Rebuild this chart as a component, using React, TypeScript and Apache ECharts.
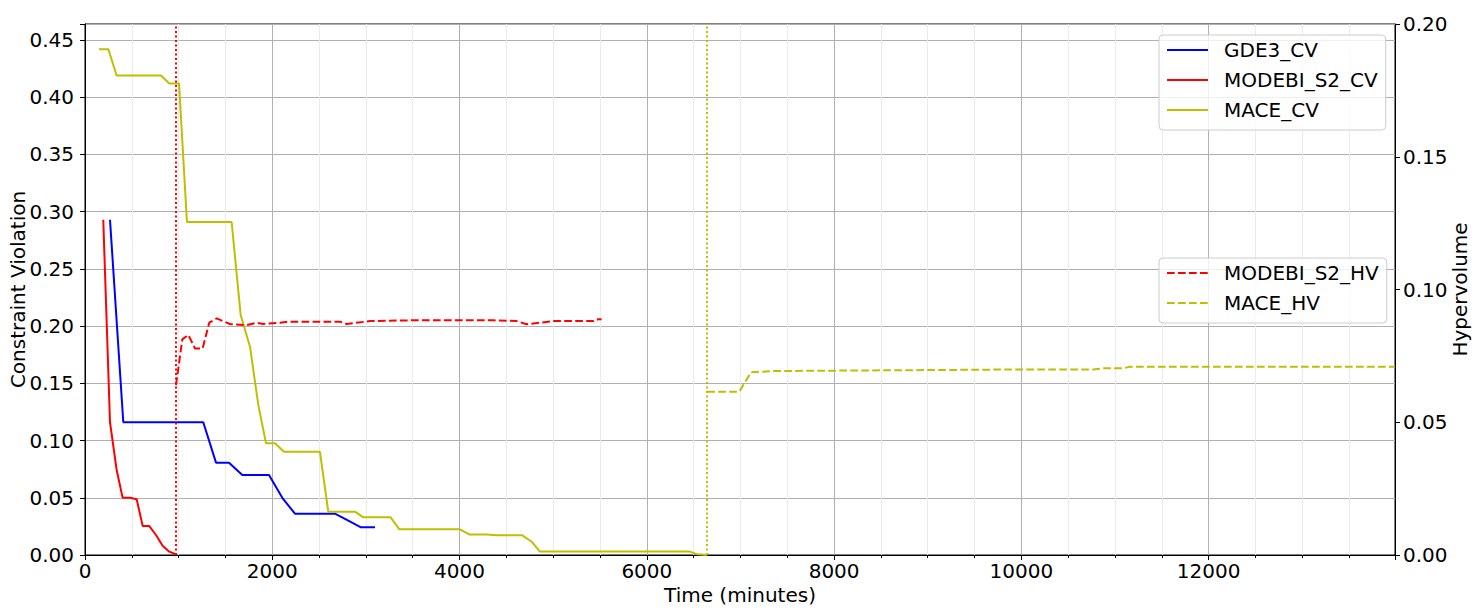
import React, { useEffect, useRef } from "react";
import * as echarts from "echarts";

const gde3CvX = [267, 409, 1263, 1399, 1538, 1680, 1965, 2107, 2242, 2669, 2812, 2947, 3097];
const gde3CvY = [0.293, 0.116, 0.116, 0.0807, 0.0807, 0.07, 0.07, 0.05, 0.0361, 0.0361, 0.03, 0.0242, 0.0242];

const modebiCvX = [195, 267, 338, 402, 480, 552, 616, 687, 758, 829, 900, 961, 980];
const modebiCvY = [0.293, 0.116, 0.0743, 0.05, 0.05, 0.0487, 0.0253, 0.0253, 0.0175, 0.0081, 0.0029, 0.0009, 0.0];

const maceCvX = [150, 249, 338, 812, 900, 1004, 1089, 1566, 1662, 1762, 1851, 1933, 2029, 2125, 2509, 2598, 2883, 2972, 3264, 3357, 4004, 4104, 4289, 4396, 4670, 4770, 4858, 6460, 6538, 6645];
const maceCvY = [0.442, 0.442, 0.419, 0.419, 0.412, 0.412, 0.291, 0.291, 0.21, 0.182, 0.131, 0.0976, 0.0976, 0.0903, 0.0903, 0.0379, 0.0379, 0.0329, 0.0329, 0.0224, 0.0224, 0.018, 0.018, 0.0172, 0.0172, 0.0116, 0.003, 0.003, 0.0006, 0.0];

const modebiHvX = [972, 1039, 1103, 1175, 1256, 1327, 1406, 1548, 1726, 1833, 1904, 2082, 2171, 2723, 2794, 3043, 3506, 4360, 4609, 4716, 5000, 5428, 5481, 5517];
const modebiHvY = [0.064, 0.0812, 0.0829, 0.0778, 0.0778, 0.0875, 0.0891, 0.087, 0.0866, 0.0875, 0.087, 0.0875, 0.0879, 0.0879, 0.087, 0.0881, 0.0884, 0.0884, 0.0881, 0.0869, 0.0881, 0.0881, 0.0888, 0.0888];

const maceHvX = [6645, 6987, 7112, 7350, 9236, 9948, 10767, 10873, 11087, 11158, 13990];
const maceHvY = [0.0615, 0.0615, 0.0688, 0.0693, 0.0697, 0.0699, 0.0699, 0.0703, 0.0703, 0.0709, 0.0709];

const modebiEndX = 972;
const maceEndX = 6645;

const X_MAX = 13990;
const CV_MAX = 0.464;
const HV_MAX = 0.2;

const BLUE = "#0000ff";
const RED = "#ff0000";
const OLIVE = "#bfbf00";
const FONT = "DejaVu Sans";

const zip = (xs: number[], ys: number[]) => xs.map((x, i) => [x, ys[i]]);

export default function App() {
  const ref = useRef<HTMLDivElement>(null);
  useEffect(() => {
    if (!ref.current) return;
    const chart = echarts.init(ref.current, null, { renderer: "svg" });
    const textStyle = { fontFamily: FONT, fontSize: 20, color: "#000" };
    const legendBase = {
      orient: "vertical" as const,
      left: 1159,
      itemWidth: 41,
      itemHeight: 20,
      itemGap: 10,
      padding: [5, 8, 10, 7],
      backgroundColor: "rgba(255,255,255,0.8)",
      borderColor: "#cccccc",
      borderWidth: 1,
      borderRadius: 4,
      itemStyle: { opacity: 0, borderWidth: 0 },
      textStyle: { ...textStyle, lineHeight: 20, padding: [0, 0, 0, 11] },
    };
    const lineSeries = (name: string, data: number[][], color: string, yIdx: number, dashed: boolean, extra: any = {}) => ({
      name,
      type: "line",
      data,
      yAxisIndex: yIdx,
      symbol: "none",
      showSymbol: false,
      color,
      lineStyle: { color, width: 2, type: dashed ? [7.7, 3.3] : "solid" },
      z: 3,
      ...extra,
    });
    const vLine = (x: number, color: string) => ({
      silent: true,
      symbol: ["none", "none"],
      label: { show: false },
      lineStyle: { color, width: 2, type: [2, 2.5] },
      data: [{ xAxis: x }],
    });
    chart.setOption({
      animation: false,
      textStyle: { fontFamily: FONT },
      grid: {
        left: 85,
        right: 82,
        top: 24,
        bottom: 60,
        containLabel: false,
        outerBoundsMode: "none",
        show: true,
        borderColor: "#000",
        borderWidth: 1,
        backgroundColor: "transparent",
      },
      legend: [
        { ...legendBase, top: 35, data: ["GDE3_CV", "MODEBI_S2_CV", "MACE_CV"] },
        { ...legendBase, top: 258, data: ["MODEBI_S2_HV", "MACE_HV"] },
      ],
      xAxis: {
        type: "value",
        min: 0,
        max: X_MAX,
        interval: 2000,
        name: "Time (minutes)",
        nameLocation: "middle",
        nameGap: 30,
        nameMoveOverlap: false,
        nameTextStyle: textStyle,
        axisLine: { show: true, lineStyle: { color: "#000", width: 1 } },
        axisTick: { show: true, length: 5, lineStyle: { color: "#000" } },
        minorTick: { show: true, splitNumber: 4, length: 3, lineStyle: { color: "#000" } },
        axisLabel: { ...textStyle, margin: 6, formatter: (v: number) => (v % 2000 === 0 ? String(v) : "") },
        splitLine: { show: true, lineStyle: { color: "#b0b0b0", width: 1 } },
        minorSplitLine: { show: true, lineStyle: { color: "#ebebeb", width: 1 } },
      },
      yAxis: [
        {
          type: "value",
          min: 0,
          max: CV_MAX,
          interval: 0.05,
          position: "left",
          name: "Constraint Violation",
          nameLocation: "middle",
          nameRotate: 90,
          nameGap: 57,
          nameMoveOverlap: false,
          nameTextStyle: textStyle,
          axisLine: { show: true, lineStyle: { color: "#000", width: 1 } },
          axisTick: { show: true, length: 5, lineStyle: { color: "#000" } },
          axisLabel: {
            ...textStyle,
            margin: 11,
            formatter: (v: number) => (Math.abs(v / 0.05 - Math.round(v / 0.05)) < 1e-6 ? v.toFixed(2) : ""),
          },
          splitLine: { show: true, lineStyle: { color: "#b0b0b0", width: 1 } },
        },
        {
          type: "value",
          min: 0,
          max: HV_MAX,
          interval: 0.05,
          position: "right",
          name: "Hypervolume",
          nameLocation: "middle",
          nameRotate: 90,
          nameGap: 55,
          nameMoveOverlap: false,
          nameTextStyle: textStyle,
          axisLine: { show: true, lineStyle: { color: "#000", width: 1 } },
          axisTick: { show: true, length: 5, lineStyle: { color: "#000" } },
          axisLabel: { ...textStyle, margin: 8, formatter: (v: number) => v.toFixed(2) },
          splitLine: { show: false },
        },
      ],
      series: [
        lineSeries("GDE3_CV", zip(gde3CvX, gde3CvY), BLUE, 0, false),
        lineSeries("MODEBI_S2_CV", zip(modebiCvX, modebiCvY), RED, 0, false, { markLine: vLine(modebiEndX, RED) }),
        lineSeries("MACE_CV", zip(maceCvX, maceCvY), OLIVE, 0, false, { markLine: vLine(maceEndX, OLIVE) }),
        lineSeries("MODEBI_S2_HV", zip(modebiHvX, modebiHvY), RED, 1, true),
        lineSeries("MACE_HV", zip(maceHvX, maceHvY), OLIVE, 1, true),
      ],
    });
    return () => chart.dispose();
  }, []);
  return <div ref={ref} style={{ width: 1477, height: 615, position: "absolute", left: 0, top: 0 }} />;
}
